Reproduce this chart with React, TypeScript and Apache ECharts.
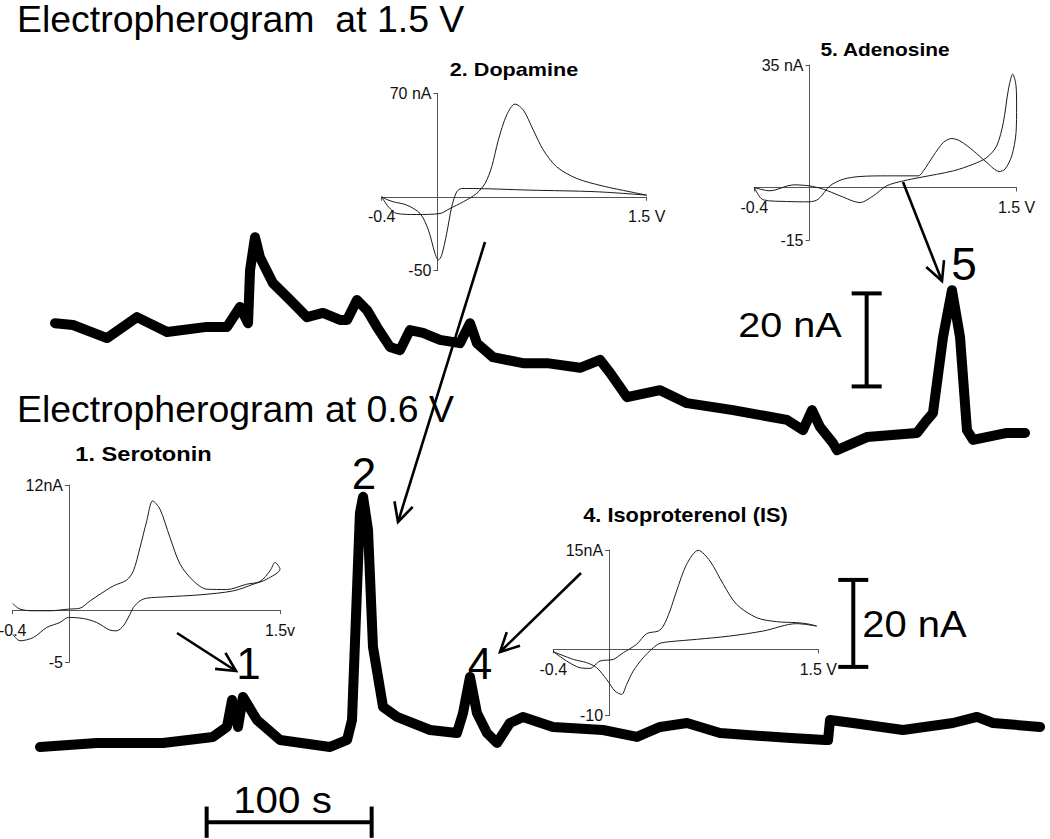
import React, { useEffect, useRef } from "react";
import * as echarts from "echarts";

const FONT = "'Liberation Sans', Arial, Helvetica, sans-serif";

// ---------- Electropherogram traces: [time (s), current (nA)] ----------
const trace15V: [number, number][] = [
  [9.1, 30.5], [20.0, 30.1], [40.6, 27.3], [58.8, 31.8], [77.0, 28.6], [101.2, 29.7], [113.3, 29.7],
  [121.2, 34.0], [126.1, 30.5], [127.3, 41.9], [130.3, 49.0], [133.3, 44.7], [141.2, 39.1], [151.5, 35.5],
  [161.8, 31.8], [171.5, 32.7], [181.8, 31.2], [186.1, 31.2], [192.1, 35.5], [198.2, 33.3], [204.2, 29.7],
  [212.1, 25.4], [218.2, 24.7], [224.2, 29.0], [232.1, 28.4], [242.4, 26.9], [254.5, 26.2], [260.6, 30.5],
  [264.8, 26.2], [274.5, 23.2], [292.7, 21.9], [307.3, 21.9], [327.3, 20.9], [339.4, 22.6], [345.5, 19.8],
  [355.8, 14.6], [375.8, 16.1], [392.1, 13.3], [420.0, 11.8], [452.7, 9.7], [462.4, 7.5], [467.9, 11.8],
  [472.7, 8.2], [480.6, 4.7], [483.0, 3.2], [501.2, 6.0], [531.5, 6.9], [537.6, 9.7], [541.2, 11.2],
  [547.3, 27.5], [552.7, 37.6], [557.6, 27.5], [561.8, 7.5], [565.5, 5.4], [586.1, 6.9], [597.0, 6.9],
];

const trace06V: [number, number][] = [
  [0, 5.3], [34.5, 6.2], [74.5, 6.2], [104.8, 7.6], [113.3, 9.9], [116.4, 16.1], [120.0, 9.9], [123.0, 16.8],
  [131.5, 11.5], [145.5, 6.9], [175.8, 5.3], [186.1, 6.9], [189.1, 11.5], [193.9, 59.1], [195.8, 62.8],
  [198.8, 55.2], [201.8, 28.3], [207.9, 14.5], [216.4, 12.2], [236.4, 9.2], [252.7, 8.5], [256.4, 13.1],
  [260.6, 21.4], [264.8, 13.1], [270.9, 8.5], [277.0, 6.2], [284.8, 10.8], [292.7, 12.2], [310.9, 9.9],
  [341.2, 9.2], [361.8, 7.6], [375.8, 9.9], [392.1, 10.8], [412.1, 8.5], [452.7, 7.4], [475.8, 6.9],
  [477.6, 6.9], [478.8, 11.5], [492.7, 10.8], [523.0, 9.2], [553.3, 10.8], [567.9, 12.2], [577.6, 10.8],
  [606.1, 9.9],
];

// ---------- Cyclic voltammograms: [potential (V), current (nA)] ----------
const dopamineCV: [number, number][] = [
  [-0.4, 0], [-0.352, -6.8], [-0.292, -11.3], [-0.149, -12.0], [0.018, -11.3], [0.09, -7.9], [0.185, -3.4],
  [0.281, 2.3], [0.341, 9.0], [0.389, 20.3], [0.436, 38.3], [0.496, 55.3], [0.556, 62.7], [0.616, 58.6],
  [0.687, 45.1], [0.759, 31.6], [0.854, 20.3], [0.998, 12.4], [1.189, 7.2], [1.38, 3.4], [1.5, 1.1],
  [1.141, 3.4], [0.663, 4.5], [0.233, 5.6], [0.173, 5.6], [0.138, 3.4], [0.102, -6.8], [0.066, -24.8],
  [0.03, -39.5], [0.006, -42.8], [-0.018, -38.3], [-0.065, -22.6], [-0.125, -11.3], [-0.221, -5.6],
  [-0.316, -3.4], [-0.364, -1.8], [-0.4, 0],
];

const adenosineCV: [number, number][] = [
  [-0.4, 0], [-0.286, -0.95], [-0.117, 0.76], [-0.004, 0.48], [0.1, -0.48], [0.221, -2.38], [0.366, -4.29],
  [0.462, -2.38], [0.559, 0.48], [0.68, 1.9], [0.8, 2.86], [1.042, 4.76], [1.187, 6.67], [1.284, 8.57],
  [1.356, 11.9], [1.404, 18.6], [1.441, 28.1], [1.472, 32.4], [1.496, 29.0], [1.5, 23.3], [1.496, 15.7],
  [1.465, 9.05], [1.416, 5.24], [1.375, 4.57], [1.284, 7.14], [1.187, 10.5], [1.09, 13.3], [1.03, 14.0],
  [0.97, 12.9], [0.897, 9.05], [0.825, 4.76], [0.788, 3.33], [0.559, 3.33], [0.366, 3.14], [0.245, 2.38],
  [0.148, 0.48], [0.064, -3.33], [-0.004, -4.1], [-0.166, -4.0], [-0.335, -3.52], [-0.4, 0],
];

const serotoninCV: [number, number][] = [
  [-0.4, 0.64], [-0.348, 0.1], [-0.253, -0.06], [-0.135, -0.06], [-0.004, 0.1], [0.079, 0.19], [0.15, 0.89],
  [0.221, 1.53], [0.316, 2.33], [0.41, 2.88], [0.458, 3.77], [0.505, 6.01], [0.553, 8.56], [0.595, 10.48],
  [0.647, 9.68], [0.718, 6.96], [0.79, 4.41], [0.884, 2.81], [0.979, 2.01], [1.121, 1.98], [1.264, 2.49],
  [1.358, 2.75], [1.429, 3.77], [1.465, 4.57], [1.5, 3.93], [1.406, 2.97], [1.311, 2.49], [1.169, 1.85],
  [0.932, 1.47], [0.695, 1.28], [0.553, 1.15], [0.505, 0.89], [0.458, 0.26], [0.434, -0.38], [0.387, -1.5],
  [0.339, -1.98], [0.292, -1.92], [0.197, -1.18], [0.102, -0.8], [-0.004, -0.7], [-0.064, -1.18],
  [-0.158, -1.66], [-0.253, -2.62], [-0.348, -2.94], [-0.4, -2.3],
];

const isoproterenolCV: [number, number][] = [
  [-0.4, -0.35], [-0.304, -1.76], [-0.209, -2.77], [-0.137, -2.87], [-0.065, -1.76], [0.03, -1.51],
  [0.102, -0.5], [0.197, 0.76], [0.269, 2.37], [0.353, 2.77], [0.389, 3.52], [0.436, 5.79], [0.484, 8.81],
  [0.556, 12.84], [0.639, 14.95], [0.723, 13.34], [0.819, 9.82], [0.914, 6.8], [1.058, 4.78], [1.201, 4.18],
  [1.344, 4.03], [1.416, 3.88], [1.488, 3.52], [1.344, 3.88], [1.105, 2.77], [0.866, 2.01], [0.627, 1.51],
  [0.436, 1.16], [0.365, 0.91], [0.317, 0.25], [0.245, -1.26], [0.173, -3.27], [0.126, -5.29], [0.09, -6.8],
  [0.042, -6.29], [-0.018, -4.53], [-0.089, -2.77], [-0.161, -2.01], [-0.257, -1.51], [-0.4, -0.35],
];

// inset axis ranges and tick labels
const cvPotentialRange = [-0.4, 1.5];
const dopamineRange = [-50, 70];
const adenosineRange = [-15, 35];
const serotoninRange = [-5, 12];
const isoRange = [-10, 15];
const dopamineYLabels = ["-50", "70 nA"];
const adenosineYLabels = ["-15", "35 nA"];
const serotoninYLabels = ["-5", "12nA"];
const isoYLabels = ["-10", "15nA"];
const voltLabels = ["-0.4", "1.5 V"];
const voltLabelsLower = ["-0.4", "1.5v"];

// scale bars (data units)
const topBarTime = 501.0;
const topBarCurrent = [16.9, 36.9];
const bottomBarTime = 492.9;
const bottomBarCurrent = [23.7, 43.7];
const timeBar = [101.0, 201.0];
const timeBarLevel = -12.0;
const capHalfTime = 9.1;
const capHalfCurrent = 3.6;

type G = { left: number; top: number; width: number; height: number };
const GRIDS: G[] = [
  { left: 40, top: 209.25, width: 1006.5, height: 255.75 },
  { left: 40, top: 465.5, width: 1006.5, height: 374.1 },
  { left: 381.7, top: 93.3, width: 265, height: 177.4 },
  { left: 754.3, top: 65, width: 262.3, height: 175 },
  { left: 12.7, top: 485, width: 267.3, height: 177.3 },
  { left: 553.3, top: 550, width: 265, height: 165.6 },
];

function insetAxes(gi: number, yr: number[], yl: string[], xl: string[]) {
  const [xmin, xmax] = cvPotentialRange;
  const g = GRIDS[gi];
  const axisColor = "#555";
  // shift axes so that they cross at (0 V, 0 nA)
  const xOffset = -(g.height * (0 - yr[0])) / (yr[1] - yr[0]);
  const yOffset = -(g.width * (0 - xmin)) / (xmax - xmin);
  const x = {
    type: "value", gridIndex: gi, min: xmin, max: xmax, position: "bottom", offset: xOffset,
    axisLine: { show: true, onZero: false, lineStyle: { color: axisColor, width: 1 } },
    axisTick: { show: true, length: 4, customValues: [xmin, xmax], lineStyle: { color: axisColor } },
    axisLabel: {
      show: true, customValues: [xmin, xmax], margin: 12, fontSize: 16, fontFamily: FONT, color: "#111",
      formatter: (v: number) => (v < (xmin + xmax) / 2 ? xl[0] : xl[1]),
    },
    splitLine: { show: false },
  };
  const y = {
    type: "value", gridIndex: gi, min: yr[0], max: yr[1], position: "left", offset: yOffset,
    axisLine: { show: true, onZero: false, lineStyle: { color: axisColor, width: 1 } },
    axisTick: { show: true, length: 4, customValues: [yr[0], yr[1]], lineStyle: { color: axisColor } },
    axisLabel: {
      show: true, customValues: [yr[0], yr[1]], margin: 6, fontSize: 16, fontFamily: FONT, color: "#111",
      formatter: (v: number) => (v < (yr[0] + yr[1]) / 2 ? yl[0] : yl[1]),
    },
    splitLine: { show: false },
  };
  return { x, y };
}

function arrow(x1: number, y1: number, x2: number, y2: number, head = 21, w = 2.6) {
  const a = Math.atan2(y2 - y1, x2 - x1);
  const ang = (27 * Math.PI) / 180;
  const p1 = [x2 - head * Math.cos(a - ang), y2 - head * Math.sin(a - ang)];
  const p2 = [x2 - head * Math.cos(a + ang), y2 - head * Math.sin(a + ang)];
  return [
    { type: "line", z: 50, shape: { x1, y1, x2, y2 }, style: { stroke: "#000", lineWidth: w } },
    { type: "polyline", z: 50, shape: { points: [p1, [x2, y2], p2] }, style: { stroke: "#000", lineWidth: w, fill: null } },
  ];
}

function txt(text: string, x: number, y: number, size: number, o: any = {}) {
  return {
    type: "text", x, y, scaleX: o.sx ?? 1, z: 60,
    style: {
      text, fontSize: size, fontFamily: FONT, fontWeight: o.bold ? "bold" : "normal", fill: "#000",
      align: o.align ?? "center", verticalAlign: "middle", lineHeight: o.lh ?? size,
    },
  };
}

function seg(gi: number, pts: number[][], w: number) {
  return {
    type: "line", xAxisIndex: gi, yAxisIndex: gi, data: pts, showSymbol: false, symbol: "none", clip: false,
    lineStyle: { color: "#000", width: w, cap: "butt" }, silent: true, z: 5,
  };
}

export default function App() {
  const ref = useRef<HTMLDivElement>(null);
  useEffect(() => {
    if (!ref.current) return;
    const chart = echarts.init(ref.current, null, { renderer: "svg" });
    const dop = insetAxes(2, dopamineRange, dopamineYLabels, voltLabels);
    const ade = insetAxes(3, adenosineRange, adenosineYLabels, voltLabels);
    const ser = insetAxes(4, serotoninRange, serotoninYLabels, voltLabelsLower);
    const iso = insetAxes(5, isoRange, isoYLabels, voltLabels);
    const hiddenX = (gi: number) => ({ type: "value", gridIndex: gi, min: 0, max: 610, show: false });
    const traceLine = (gi: number, data: [number, number][]) => ({
      type: "line", xAxisIndex: gi, yAxisIndex: gi, data, showSymbol: false, symbol: "none", clip: false,
      lineStyle: { color: "#000", width: 10, join: "round", cap: "round" }, z: 4, silent: true,
    });
    const cvLine = (gi: number, data: [number, number][]) => ({
      type: "line", xAxisIndex: gi, yAxisIndex: gi, data, showSymbol: false, symbol: "none", smooth: 0.3,
      clip: false, lineStyle: { color: "#1a1a1a", width: 1 }, z: 3, silent: true,
    });

    const option: any = {
      animation: false,
      backgroundColor: "#fff",
      grid: GRIDS.map((g) => ({ ...g, outerBoundsMode: "none", containLabel: false })),
      xAxis: [hiddenX(0), hiddenX(1), dop.x, ade.x, ser.x, iso.x],
      yAxis: [
        { type: "value", gridIndex: 0, min: 0, max: 55, show: false },
        { type: "value", gridIndex: 1, min: -16, max: 70, show: false },
        dop.y, ade.y, ser.y, iso.y,
      ],
      series: [
        traceLine(0, trace15V),
        traceLine(1, trace06V),
        cvLine(2, dopamineCV),
        cvLine(3, adenosineCV),
        cvLine(4, serotoninCV),
        cvLine(5, isoproterenolCV),
        // 20 nA scale bar (top)
        seg(0, [[topBarTime, topBarCurrent[0]], [topBarTime, topBarCurrent[1]]], 4),
        seg(0, [[topBarTime - capHalfTime, topBarCurrent[0]], [topBarTime + capHalfTime, topBarCurrent[0]]], 4),
        seg(0, [[topBarTime - capHalfTime, topBarCurrent[1]], [topBarTime + capHalfTime, topBarCurrent[1]]], 4),
        // 20 nA scale bar (bottom)
        seg(1, [[bottomBarTime, bottomBarCurrent[0]], [bottomBarTime, bottomBarCurrent[1]]], 4),
        seg(1, [[bottomBarTime - capHalfTime, bottomBarCurrent[0]], [bottomBarTime + capHalfTime, bottomBarCurrent[0]]], 4),
        seg(1, [[bottomBarTime - capHalfTime, bottomBarCurrent[1]], [bottomBarTime + capHalfTime, bottomBarCurrent[1]]], 4),
        // 100 s scale bar
        seg(1, [[timeBar[0], timeBarLevel], [timeBar[1], timeBarLevel]], 4),
        seg(1, [[timeBar[0], timeBarLevel - capHalfCurrent], [timeBar[0], timeBarLevel + capHalfCurrent]], 4),
        seg(1, [[timeBar[1], timeBarLevel - capHalfCurrent], [timeBar[1], timeBarLevel + capHalfCurrent]], 4),
      ],
      graphic: {
        elements: [
          txt("Electropherogram  at 1.5 V", 17, 19.5, 36, { align: "left", sx: 1.04, lh: 30 }),
          txt("Electropherogram at 0.6 V", 17, 410, 36, { align: "left", sx: 1.04, lh: 30 }),
          txt("2. Dopamine", 514, 70, 18, { bold: true, sx: 1.2 }),
          txt("5. Adenosine", 885, 50, 18, { bold: true, sx: 1.16 }),
          txt("1. Serotonin", 143.5, 454.5, 20, { bold: true, sx: 1.18 }),
          txt("4. Isoproterenol (IS)", 685.5, 515, 20, { bold: true, sx: 1.09 }),
          txt("1", 248.5, 663, 44),
          txt("2", 364, 473, 44),
          txt("4", 480, 663, 44),
          txt("5", 964, 264, 46),
          txt("20 nA", 790, 324.5, 35, { sx: 1.13 }),
          txt("20 nA", 914.5, 624, 37, { sx: 1.08 }),
          txt("100 s", 282.5, 800, 37, { sx: 1.09 }),
          ...arrow(485, 242, 398, 522),
          ...arrow(903, 182, 942, 281),
          ...arrow(177, 633, 236, 671),
          ...arrow(581, 573, 500, 652),
        ],
      },
    };
    chart.setOption(option);
    return () => chart.dispose();
  }, []);
  return (
    <div
      ref={ref}
      style={{ position: "fixed", left: 0, top: 0, width: 1050, height: 839, background: "#fff" }}
    />
  );
}
